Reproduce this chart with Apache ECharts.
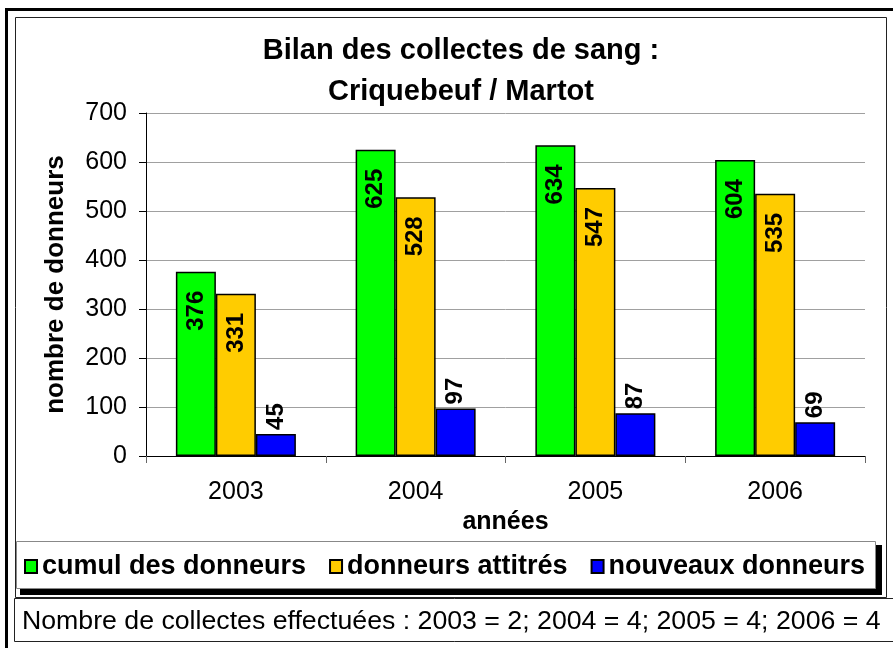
<!DOCTYPE html>
<html>
<head>
<meta charset="utf-8">
<title>Bilan des collectes de sang</title>
<script src="https://cdn.jsdelivr.net/npm/echarts@6/dist/echarts.min.js"></script>
<style>
    html, body { margin: 0; padding: 0; background: #fff; }
    #chart { width: 893px; height: 648px; }
</style>
</head>
<body>
<div id="chart"></div>
<script>
// données
var annees = ['2003', '2004', '2005', '2006'];
var cumul = [376, 625, 634, 604];
var attitres = [331, 528, 547, 535];
var nouveaux = [45, 97, 87, 69];
var yTicks = { min: 0, max: 700, interval: 100 };
var noteCollectes = 'Nombre de collectes effectuées : 2003 = 2; 2004 = 4; 2005 = 4; 2006 = 4';

var police = '"Liberation Sans", Arial, sans-serif';

var chart = echarts.init(document.getElementById('chart'));

// étiquette tournée à l'intérieur du haut de la barre
var labelDedans = {
    show: true,
    position: 'insideTop',
    rotate: 90,
    align: 'right',
    verticalAlign: 'middle',
    distance: 19,
    fontSize: 24,
    fontWeight: 'bold',
    fontFamily: police,
    color: '#000'
};

var option = {
    backgroundColor: '#fff',
    animation: false,
    textStyle: { fontFamily: police, color: '#000' },
    title: {
        text: 'Bilan des collectes de sang :\nCriquebeuf / Martot',
        left: 456,
        top: 25,
        textAlign: 'center',
        textStyle: { fontSize: 29, fontWeight: 'bold', lineHeight: 41, color: '#000', fontFamily: police }
    },
    legend: {
        left: 19,
        top: 548,
        itemGap: 23,
        itemWidth: 12,
        itemHeight: 13,
        icon: 'rect',
        textStyle: { fontSize: 27, fontWeight: 'bold', color: '#000', fontFamily: police },
        data: ['cumul des donneurs', 'donneurs attitrés', 'nouveaux donneurs']
    },
    grid: { left: 146, right: 28, top: 113, bottom: 192 },
    xAxis: {
        type: 'category',
        data: annees,
        name: 'années',
        nameLocation: 'middle',
        nameGap: 49,
        nameTextStyle: { fontSize: 25, fontWeight: 'bold', color: '#000' },
        axisLine: { lineStyle: { color: '#000', width: 1 } },
        axisTick: { show: true, length: 7, lineStyle: { color: '#666' } },
        axisLabel: { fontSize: 25, color: '#000', margin: 24 }
    },
    yAxis: {
        type: 'value',
        min: yTicks.min,
        max: yTicks.max,
        interval: yTicks.interval,
        name: 'nombre de donneurs',
        nameLocation: 'middle',
        nameGap: 77,
        nameTextStyle: { fontSize: 26, fontWeight: 'bold', color: '#000' },
        axisLine: { show: true, lineStyle: { color: '#000', width: 1 } },
        axisTick: { show: true, length: 7, lineStyle: { color: '#000' } },
        axisLabel: { fontSize: 25, color: '#000', margin: 19 },
        splitLine: { lineStyle: { color: '#a0a0a0', width: 1 } }
    },
    series: [{
        name: 'cumul des donneurs',
        type: 'bar',
        data: cumul,
        barWidth: 40,
        barGap: '0%',
        itemStyle: { color: '#00ff00', borderColor: '#000', borderWidth: 1.5 },
        label: labelDedans
    }, {
        name: 'donneurs attitrés',
        type: 'bar',
        data: attitres,
        barWidth: 40,
        barGap: '0%',
        itemStyle: { color: '#ffcc00', borderColor: '#000', borderWidth: 1.5 },
        label: labelDedans
    }, {
        name: 'nouveaux donneurs',
        type: 'bar',
        data: nouveaux,
        barWidth: 40,
        barGap: '0%',
        itemStyle: { color: '#0000ff', borderColor: '#000', borderWidth: 1.5 },
        label: {
            show: true,
            position: 'top',
            rotate: 90,
            align: 'left',
            verticalAlign: 'middle',
            distance: 4,
            fontSize: 24,
            fontWeight: 'bold',
            fontFamily: police,
            color: '#000'
        }
    }],
    graphic: [
        // cadre extérieur (trait épais haut et gauche)
        { type: 'rect', shape: { x: 5, y: 8, width: 888, height: 3 }, style: { fill: '#000' }, silent: true },
        { type: 'rect', shape: { x: 5, y: 8, width: 3, height: 640 }, style: { fill: '#000' }, silent: true },
        // cadre du graphique
        { type: 'rect', shape: { x: 15.5, y: 17.5, width: 871, height: 580 }, style: { fill: null, stroke: '#222', lineWidth: 1 }, silent: true },
        // boîte de légende avec ombre
        { type: 'rect', shape: { x: 20, y: 545, width: 862, height: 50 }, style: { fill: '#000' }, silent: true },
        { type: 'rect', shape: { x: 16.5, y: 541.5, width: 859, height: 47 }, style: { fill: '#fff', stroke: '#888', lineWidth: 1 }, silent: true },
        // note en bas
        { type: 'rect', shape: { x: 14.5, y: 598.5, width: 890, height: 43 }, style: { fill: '#fff', stroke: '#222', lineWidth: 1 }, silent: true },
        {
            type: 'text', left: 22, top: 608, silent: true,
            style: { text: noteCollectes, fontSize: 26.7, fontFamily: police, fill: '#000' }
        }
    ]
};

chart.setOption(option);
</script>
</body>
</html>
